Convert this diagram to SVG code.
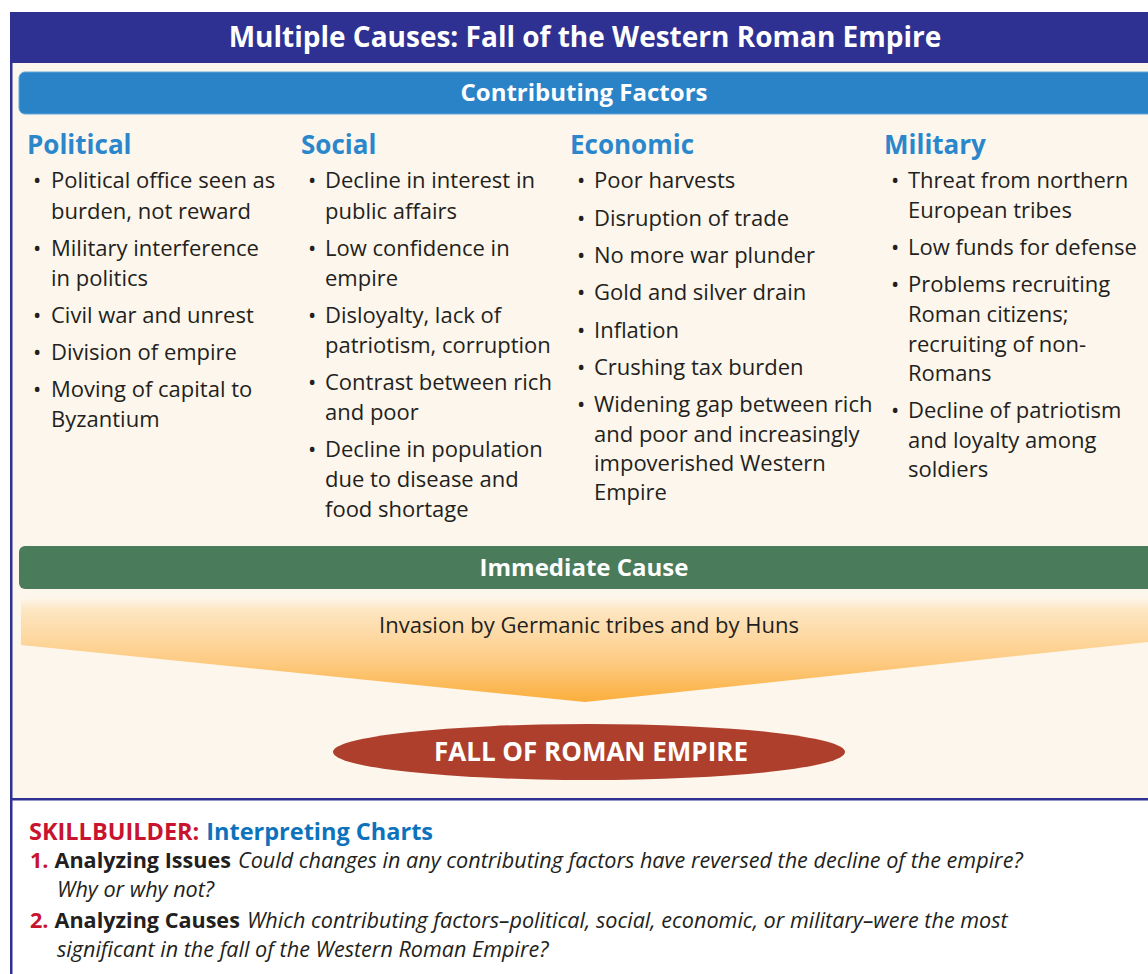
<svg xmlns="http://www.w3.org/2000/svg" width="1148" height="974" viewBox="0 0 1148 974">
<defs>
<linearGradient id="orangeGrad" x1="0" y1="598" x2="0" y2="702" gradientUnits="userSpaceOnUse">
<stop offset="0" stop-color="#fdf6ea"/>
<stop offset="0.12" stop-color="#fde6c2"/>
<stop offset="0.6" stop-color="#fdcc85"/>
<stop offset="1" stop-color="#fbae3c"/>
</linearGradient>
<style>
.body{font-family:"Open Sans","Noto Sans","Liberation Sans",sans-serif;font-size:22px;fill:#231f20}
.head{font-family:"Open Sans","Noto Sans","Liberation Sans",sans-serif;font-size:26px;font-weight:bold;fill:#2b87cc}
.bar{font-family:"Open Sans","Noto Sans","Liberation Sans",sans-serif;font-weight:bold;fill:#ffffff;text-anchor:middle}
.sb{font-family:"Open Sans","Noto Sans","Liberation Sans",sans-serif;font-size:21.6px;fill:#231f20}
.sbb{font-weight:bold}
.sbi{font-style:italic}
.red{fill:#c8142f;font-weight:bold}
</style>
</defs>
<rect x="0" y="0" width="1148" height="974" fill="#ffffff"/>
<rect x="12" y="63" width="1136" height="737" fill="#fdf6ec"/>
<g id="frame">
<rect x="10" y="12" width="1138" height="51" fill="#2e3192"/>
<rect x="10" y="12" width="2.5" height="962" fill="#2e3192"/>
<rect x="10" y="798" width="1138" height="2.5" fill="#2e3192"/>
</g>
<g id="title">
<text class="bar" x="585" y="47" font-size="28">Multiple Causes: Fall of the Western Roman Empire</text>
</g>
<g id="contributing-factors">
<rect x="19" y="72" width="1140" height="42" rx="6" fill="#2a83c7" stroke="#5fa6da" stroke-width="1"/>
<text class="bar" x="584" y="101" font-size="24">Contributing Factors</text>
</g>
<g id="political">
<text class="head" x="27" y="154">Political</text>
<text class="body" x="33" y="188">•</text><text class="body" x="51" y="188">Political office seen as</text>
<text class="body" x="51" y="219">burden, not reward</text>
<text class="body" x="33" y="256">•</text><text class="body" x="51" y="256">Military interference</text>
<text class="body" x="51" y="286">in politics</text>
<text class="body" x="33" y="323">•</text><text class="body" x="51" y="323">Civil war and unrest</text>
<text class="body" x="33" y="360">•</text><text class="body" x="51" y="360">Division of empire</text>
<text class="body" x="33" y="397">•</text><text class="body" x="51" y="397">Moving of capital to</text>
<text class="body" x="51" y="427">Byzantium</text>
</g>
<g id="social">
<text class="head" x="301" y="154">Social</text>
<text class="body" x="308" y="188">•</text><text class="body" x="325" y="188">Decline in interest in</text>
<text class="body" x="325" y="219">public affairs</text>
<text class="body" x="308" y="256">•</text><text class="body" x="325" y="256">Low confidence in</text>
<text class="body" x="325" y="286">empire</text>
<text class="body" x="308" y="323">•</text><text class="body" x="325" y="323">Disloyalty, lack of</text>
<text class="body" x="325" y="353">patriotism, corruption</text>
<text class="body" x="308" y="390">•</text><text class="body" x="325" y="390">Contrast between rich</text>
<text class="body" x="325" y="420">and poor</text>
<text class="body" x="308" y="457">•</text><text class="body" x="325" y="457">Decline in population</text>
<text class="body" x="325" y="487">due to disease and</text>
<text class="body" x="325" y="517">food shortage</text>
</g>
<g id="economic">
<text class="head" x="570" y="154">Economic</text>
<text class="body" x="577" y="188">•</text><text class="body" x="594" y="188">Poor harvests</text>
<text class="body" x="577" y="226">•</text><text class="body" x="594" y="226">Disruption of trade</text>
<text class="body" x="577" y="263">•</text><text class="body" x="594" y="263">No more war plunder</text>
<text class="body" x="577" y="300">•</text><text class="body" x="594" y="300">Gold and silver drain</text>
<text class="body" x="577" y="338">•</text><text class="body" x="594" y="338">Inflation</text>
<text class="body" x="577" y="375">•</text><text class="body" x="594" y="375">Crushing tax burden</text>
<text class="body" x="577" y="412">•</text><text class="body" x="594" y="412">Widening gap between rich</text>
<text class="body" x="594" y="442">and poor and increasingly</text>
<text class="body" x="594" y="471">impoverished Western</text>
<text class="body" x="594" y="500">Empire</text>
</g>
<g id="military">
<text class="head" x="884" y="154">Military</text>
<text class="body" x="891" y="188">•</text><text class="body" x="908" y="188">Threat from northern</text>
<text class="body" x="908" y="218">European tribes</text>
<text class="body" x="891" y="255">•</text><text class="body" x="908" y="255">Low funds for defense</text>
<text class="body" x="891" y="292">•</text><text class="body" x="908" y="292">Problems recruiting</text>
<text class="body" x="908" y="322">Roman citizens;</text>
<text class="body" x="908" y="352">recruiting of non-</text>
<text class="body" x="908" y="381">Romans</text>
<text class="body" x="891" y="418">•</text><text class="body" x="908" y="418">Decline of patriotism</text>
<text class="body" x="908" y="448">and loyalty among</text>
<text class="body" x="908" y="477">soldiers</text>
</g>
<g id="immediate-cause">
<rect x="19" y="546" width="1140" height="43" rx="6" fill="#4a7c5c"/>
<text class="bar" x="584" y="576" font-size="24">Immediate Cause</text>
</g>
<g id="connectors">
<path d="M21 598 L1148 598 L1148 642 L585 702 L21 645 Z" fill="url(#orangeGrad)"/>
</g>
<g id="invasion">
<text class="body" x="589" y="633" font-size="21" text-anchor="middle">Invasion by Germanic tribes and by Huns</text>
</g>
<g id="fall">
<ellipse cx="589" cy="752" rx="256" ry="28" fill="#ae3f2c"/>
<text class="bar" x="591" y="761" font-size="26">FALL OF ROMAN EMPIRE</text>
</g>
<g id="skillbuilder">
<text x="29" y="840" font-family="Open Sans, Noto Sans, Liberation Sans, sans-serif" font-size="23.5" font-weight="bold"><tspan fill="#c8142f">SKILLBUILDER:</tspan><tspan fill="#0c72bc" dx="7">Interpreting Charts</tspan></text>
<text class="sb" x="30" y="868"><tspan class="red">1.</tspan><tspan class="sbb" dx="6">Analyzing Issues</tspan><tspan class="sbi" dx="7">Could changes in any contributing factors have reversed the decline of the empire?</tspan></text>
<text class="sb sbi" x="57" y="897">Why or why not?</text>
<text class="sb" x="30" y="928"><tspan class="red">2.</tspan><tspan class="sbb" dx="6">Analyzing Causes</tspan><tspan class="sbi" dx="7">Which contributing factors–political, social, economic, or military–were the most</tspan></text>
<text class="sb sbi" x="57" y="957">significant in the fall of the Western Roman Empire?</text>
</g>
</svg>
